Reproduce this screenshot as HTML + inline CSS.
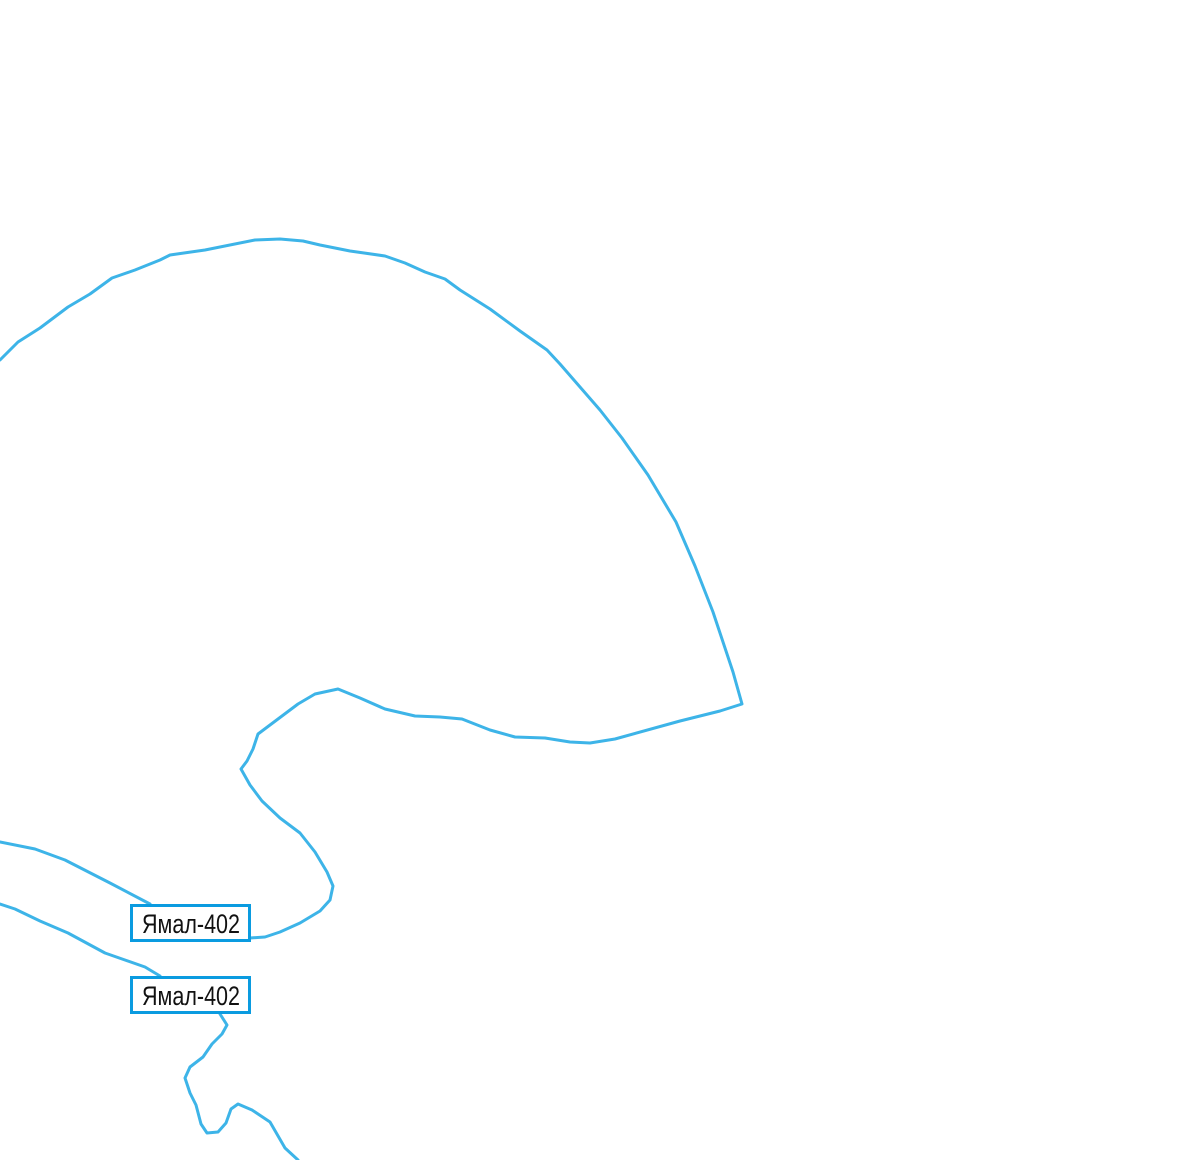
<!DOCTYPE html>
<html><head><meta charset="utf-8"><style>
html,body{margin:0;padding:0;background:#fff;width:1200px;height:1160px;overflow:hidden}
</style></head><body>
<svg width="1200" height="1160" viewBox="0 0 1200 1160" xmlns="http://www.w3.org/2000/svg">
<g fill="none" stroke="#3db4e8" stroke-width="3" stroke-linejoin="round" stroke-linecap="round">
<polyline points="0,360 18,342 40,328 68,307 90,294 112,278 135,270 160,260 170,255 205,250 255,240 280,239 303,241 320,245 350,251 385,256 405,263 425,272 445,279 460,290 490,309 520,331 547,350 560,364 600,410 622,438 648,475 676,522 695,566 713,612 733,672 742,704 720,711 680,721 615,739 590,743 570,742 545,738 515,737 490,730 462,719 440,717 415,716 385,709 360,698 338,689 315,694 298,704 258,734 253,749 247,761 241,769 250,785 262,801 280,818 300,833 315,852 327,872 333,886 330,900 320,911 300,923 280,932 265,937 250,938"/>
<polyline points="0,842 35,849 65,860 110,883 150,904"/>
<polyline points="0,904 15,909 40,921 68,933 105,953 145,967 160,976"/>
<polyline points="220,1014 227,1025 222,1034 212,1044 203,1057 190,1067 185,1078 190,1093 196,1105 201,1124 207,1133 218,1132 226,1123 231,1109 238,1104 252,1110 270,1122 285,1148 298,1160"/>
</g>
<g stroke="#0a9be0" stroke-width="3" fill="#fff">
<rect x="131.5" y="905.5" width="118" height="35"/>
<rect x="131.5" y="977.5" width="118" height="35"/>
</g>
<g font-family="'Liberation Sans Narrow','Liberation Sans',sans-serif" font-size="27" fill="#111">
<text x="142" y="933" textLength="98" lengthAdjust="spacingAndGlyphs">Ямал-402</text>
<text x="142" y="1005" textLength="98" lengthAdjust="spacingAndGlyphs">Ямал-402</text>
</g>
</svg>
</body></html>
